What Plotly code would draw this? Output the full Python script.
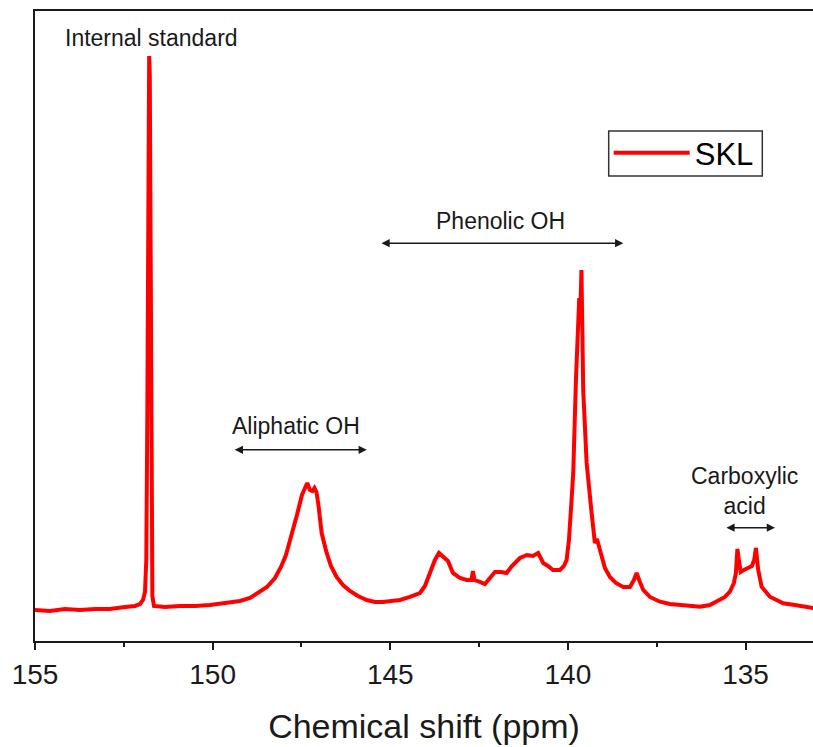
import plotly.graph_objects as go

# 31P NMR spectrum of SKL (chemical shift in ppm, relative intensity)
shift_ppm = [
    155.000, 154.578, 154.156, 153.733, 153.311, 152.889, 152.467, 152.185, 152.045, 151.960,
    151.904, 151.867, 151.839, 151.820, 151.803, 151.786, 151.769, 151.752, 151.735, 151.718,
    151.696, 151.651, 151.341, 150.919, 150.497, 150.075, 149.652, 149.230, 148.949, 148.724,
    148.470, 148.245, 148.076, 147.936, 147.795, 147.626, 147.485, 147.401, 147.336, 147.260,
    147.190, 147.133, 147.077, 147.021, 146.931, 146.790, 146.669, 146.509, 146.331, 146.134,
    145.909, 145.664, 145.431, 145.205, 144.952, 144.727, 144.446, 144.164, 144.023, 143.883,
    143.742, 143.629, 143.517, 143.376, 143.235, 143.038, 142.850, 142.715, 142.672, 142.630,
    142.475, 142.335, 142.194, 142.053, 141.884, 141.724, 141.575, 141.350, 141.153, 140.984,
    140.835, 140.694, 140.561, 140.421, 140.224, 140.111, 140.035, 139.970, 139.914, 139.849,
    139.773, 139.717, 139.680, 139.655, 139.618, 139.568, 139.472, 139.332, 139.239, 139.182,
    139.126, 139.050, 138.957, 138.816, 138.648, 138.442, 138.253, 138.141, 138.065, 137.972,
    137.879, 137.691, 137.409, 137.128, 136.762, 136.283, 136.002, 135.813, 135.580, 135.439,
    135.326, 135.270, 135.228, 135.186, 135.138, 135.045, 134.932, 134.820, 134.755, 134.707,
    134.642, 134.547, 134.313, 133.939, 133.610, 133.328, 133.103, 132.900,
]
intensity = [
    -0.32, -0.48, -0.16, -0.32, -0.16, -0.16, 0.16, 0.32, 0.63, 1.27,
    2.54, 7.62, 29.84, 64.76, 85.40, 87.62, 84.60, 64.76, 33.02, 10.00,
    1.90, 0.32, 0.16, 0.32, 0.32, 0.48, 0.79, 1.11, 1.59, 2.38,
    3.33, 4.76, 6.51, 8.41, 11.11, 14.76, 17.94, 19.21, 19.84, 18.73,
    18.57, 19.05, 18.41, 16.35, 11.90, 8.73, 6.67, 4.92, 3.65, 2.70,
    1.90, 1.27, 0.95, 0.95, 1.11, 1.27, 1.75, 2.38, 3.49, 5.56,
    7.62, 8.73, 8.25, 7.46, 5.56, 4.76, 4.44, 4.44, 5.87, 4.44,
    4.13, 3.81, 4.76, 5.71, 5.71, 5.56, 6.67, 7.94, 8.41, 8.25,
    8.73, 7.14, 6.67, 6.03, 6.03, 6.67, 7.62, 10.79, 15.56, 21.43,
    36.19, 47.30, 49.20, 45.70, 53.65, 34.60, 23.02, 15.08, 10.32, 10.95,
    9.84, 8.10, 6.35, 4.92, 3.97, 3.33, 3.33, 4.44, 5.56, 4.13,
    2.86, 1.75, 1.00, 0.63, 0.48, 0.21, 0.48, 1.00, 1.75, 2.59,
    3.97, 5.56, 9.37, 7.62, 5.71, 6.03, 6.35, 6.67, 7.62, 9.52,
    6.03, 3.38, 1.79, 0.75, 0.48, 0.16, 0.00, 0.10,
]

x_ticks = [155, 150, 145, 140, 135]

# Region labels: (text, x centre, y centre)
region_labels = [
    ("Internal standard", 151.72, 90.5),
    ("Phenolic OH", 141.91, 61.4),
    ("Aliphatic OH", 147.65, 28.9),
    ("Carboxylic<br>acid", 135.02, 18.6),
]
# Double-headed range arrows: (start ppm, end ppm, height)
region_arrows = [
    (145.29, 138.44, 57.9),
    (149.42, 145.66, 25.1),
    (135.58, 134.17, 12.75),
]

FONT = "Arial, Liberation Sans, sans-serif"
INK = "#1a1a1a"

# legend frame in paper coordinates
LEG_X0, LEG_X1 = (608.7 - 35) / 778, (762.3 - 35) / 778
LEG_Y0, LEG_Y1 = (641 - 176) / 630, (641 - 131) / 630

fig = go.Figure()
fig.add_trace(go.Scatter(
    x=shift_ppm, y=intensity, mode="lines", name="SKL",
    line=dict(color="#ff0000", width=4),
))

for text, xc, yc in region_labels:
    fig.add_annotation(x=xc, y=yc, xref="x", yref="y", text=text, showarrow=False,
                       font=dict(family=FONT, size=23, color=INK),
                       xanchor="center", yanchor="middle")

for x0, x1, yv in region_arrows:
    fig.add_annotation(x=x1, y=yv, ax=x0, ay=yv, xref="x", yref="y", axref="x", ayref="y",
                       text="", showarrow=True, arrowhead=2, arrowside="end+start",
                       arrowsize=1.1, arrowwidth=1.5, arrowcolor=INK)

fig.add_shape(type="rect", xref="paper", yref="paper",
              x0=LEG_X0, x1=LEG_X1, y0=LEG_Y0, y1=LEG_Y1,
              line=dict(color="#333333", width=1.5), fillcolor="rgba(0,0,0,0)")

fig.update_layout(
    width=813, height=747,
    margin=dict(l=35, r=0, t=11, b=106),
    paper_bgcolor="white", plot_bgcolor="white",
    font=dict(family=FONT, color=INK),
    showlegend=True,
    legend=dict(x=LEG_X0, y=(641 - 126) / 630, xanchor="left", yanchor="top",
                borderwidth=0, bgcolor="rgba(0,0,0,0)",
                font=dict(family=FONT, size=31, color="#000000"),
                itemwidth=76),
    xaxis=dict(
        range=[155, 133.1], tickvals=x_ticks, ticktext=[str(v) for v in x_ticks],
        ticks="outside", ticklen=7, tickwidth=2, tickcolor=INK,
        showline=True, linewidth=2, linecolor=INK, mirror=True,
        showgrid=False, zeroline=False,
        tickfont=dict(family=FONT, size=28, color=INK),
        minor=dict(tickvals=[152.5, 147.5, 142.5, 137.5], ticks="outside",
                   ticklen=4, tickwidth=2, tickcolor=INK, showgrid=False),
        title=dict(text="Chemical shift (ppm)", font=dict(family=FONT, size=34, color=INK),
                   standoff=26),
    ),
    yaxis=dict(
        range=[-5.24, 94.76], showticklabels=False, ticks="",
        showline=True, linewidth=2, linecolor=INK,
        showgrid=False, zeroline=False,
    ),
)

fig.write_html("out.html")
